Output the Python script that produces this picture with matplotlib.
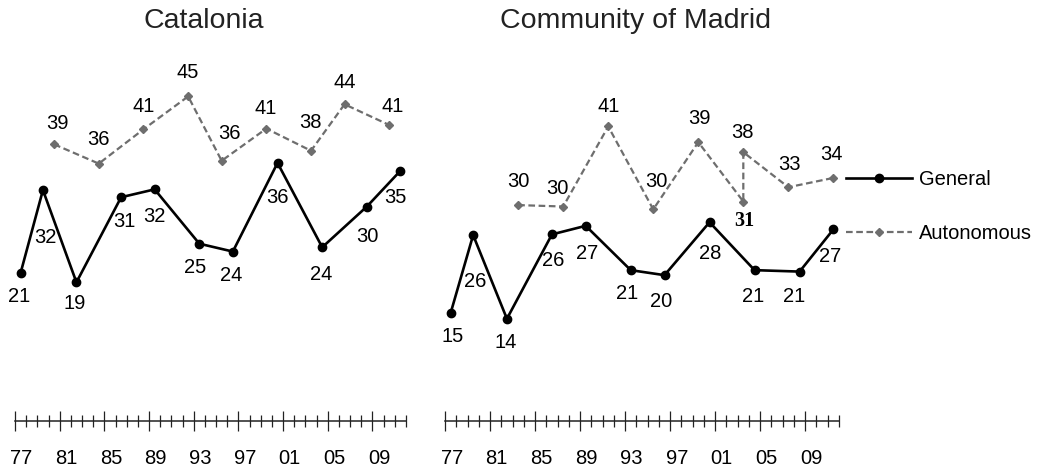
import matplotlib
matplotlib.use('Agg')
import matplotlib.pyplot as plt

plt.rcParams['font.family'] = ['Liberation Sans', 'DejaVu Sans']

# election years
gen_years = [1977, 1979, 1982, 1986, 1989, 1993, 1996, 2000, 2004, 2008, 2011]
cat_aut_years = [1980, 1984, 1988, 1992, 1995, 1999, 2003, 2006, 2010]
mad_aut_years = [1983, 1987, 1991, 1995, 1999, 2003, 2003, 2007, 2011]

# values (%)
cat_general = [20.7, 32.3, 19.4, 31.3, 32.4, 24.8, 23.7, 36.1, 24.3, 30.0, 35.0]
cat_autonomous = [38.7, 36.0, 40.8, 45.4, 36.4, 40.9, 37.8, 44.3, 41.4]
mad_general = [15.1, 26.0, 14.3, 26.1, 27.3, 21.1, 20.4, 27.8, 21.1, 20.9, 26.8]
mad_autonomous = [30.2, 30.0, 41.2, 29.6, 39.0, 30.7, 37.6, 32.7, 34.0]

tick_years = [1977, 1981, 1985, 1989, 1993, 1997, 2001, 2005, 2009]
tick_labels = ['77', '81', '85', '89', '93', '97', '01', '05', '09']

titles = ['Catalonia', 'Community of Madrid']

# label offsets in pixels (dx, dy), y up
cat_gen_off = [(-1, -23), (2, -47), (-2, -21), (3, -24), (0, -27), (-4, -24),
               (-2, -24), (0, -35), (-1, -27), (0, -30), (-5, -27)]
cat_aut_off = [(3, 21), (0, 24), (0, 23), (0, 24), (8, 27), (-1, 20),
               (-1, 28), (0, 22), (3, 19)]
mad_gen_off = [(2, -23), (2, -46), (-1, -24), (1, -26), (1, -28), (-4, -23),
               (-3, -26), (1, -31), (-1, -26), (-5, -25), (-3, -27)]
mad_aut_off = [(0, 24), (-6, 18), (0, 20), (3, 28), (1, 24), (1, -19),
               (-1, 20), (1, 23), (-2, 23)]

fig = plt.figure(figsize=(10.42, 4.73), dpi=100)
ax1 = fig.add_axes([15/1042., 0.1099, 391/1042., 0.7558])
ax2 = fig.add_axes([445/1042., 0.1099, 394/1042., 0.7558])

gcol = '#6e6e6e'
fs = 14.5

panels = [(ax1, cat_general, cat_autonomous, cat_aut_years, cat_gen_off, cat_aut_off),
          (ax2, mad_general, mad_autonomous, mad_aut_years, mad_gen_off, mad_aut_off)]

for i, (ax, gen, aut, aut_years, goff, aoff) in enumerate(panels):
    ax.plot(gen_years, gen, color='black', linewidth=1.9, marker='o',
            markersize=6, label='General', zorder=3)
    ax.plot(aut_years, aut, color=gcol, linewidth=1.6, dashes=(3, 1.6),
            marker='D', markersize=4, label='Autonomous', zorder=2)
    for x, v, o in zip(gen_years, gen, goff):
        ax.annotate('{:.0f}'.format(v), (x, v), xytext=o,
                    textcoords='offset pixels', ha='center', va='center',
                    fontsize=fs)
    for j, (x, v, o) in enumerate(zip(aut_years, aut, aoff)):
        if i == 1 and j == 5:
            # the May 2003 Madrid value is set in bold serif
            ax.annotate('{:.0f}'.format(v), (x, v), xytext=o,
                        textcoords='offset pixels', ha='center', va='center',
                        fontsize=fs, fontweight='bold',
                        family=['Liberation Serif', 'DejaVu Serif'])
        else:
            ax.annotate('{:.0f}'.format(v), (x, v), xytext=o,
                        textcoords='offset pixels', ha='center', va='center',
                        fontsize=fs)

    ax.set_xlim(1976.5, 2011.5)
    ax.set_ylim(0, 50)
    for s in ['left', 'top', 'right']:
        ax.spines[s].set_visible(False)
    ax.spines['bottom'].set_color('#222222')
    ax.spines['bottom'].set_linewidth(1.1)
    ax.set_yticks([])
    ax.set_xticks([y - 0.5 for y in tick_years])
    ax.set_xticks([y - 0.5 for y in range(1977, 2013)], minor=True)
    ax.set_xticklabels([])
    ax.tick_params(axis='x', which='major', direction='inout', length=15,
                   width=0.9, color='#222222')
    ax.tick_params(axis='x', which='minor', direction='inout', length=8,
                   width=0.9, color='#222222')
    for y, lab in zip(tick_years, tick_labels):
        ax.annotate(lab, (y, 0), xycoords=('data', 'axes fraction'),
                    xytext=(1, -37), textcoords='offset pixels',
                    ha='center', va='center', fontsize=fs)
    ax.set_title(titles[i], fontsize=20.5, pad=25.5, x=0.484, color='#222222')

fig.legend(handles=ax2.get_lines(), loc='upper left',
           bbox_to_anchor=(846/1042., (473-170)/473.),
           bbox_transform=fig.transFigure, frameon=False, fontsize=fs,
           handlelength=3.3, handletextpad=0.3, labelspacing=1.72,
           borderpad=0, borderaxespad=0)

plt.savefig('out.png', dpi=100)
plt.close()
